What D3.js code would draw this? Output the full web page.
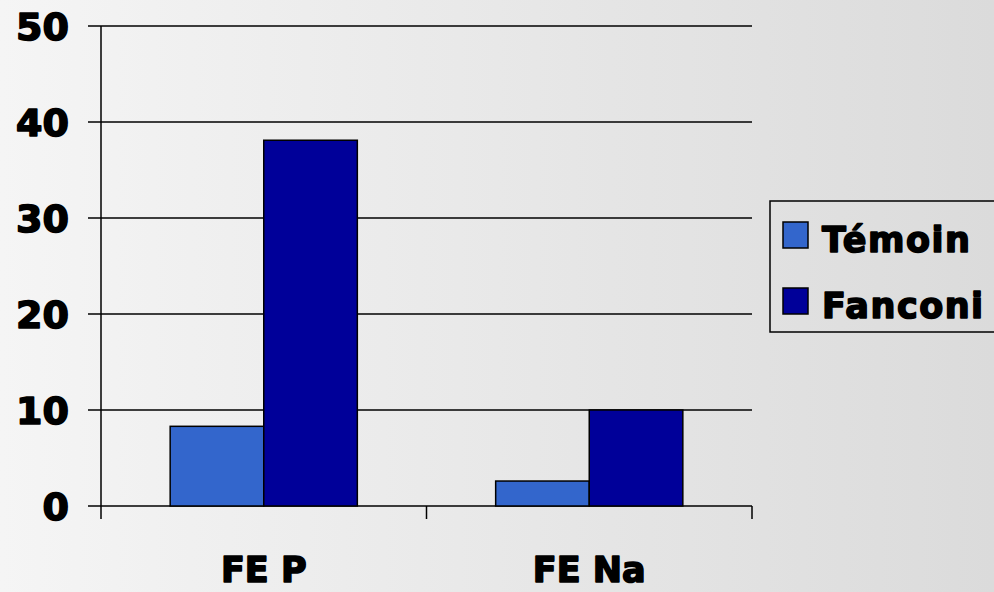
<!DOCTYPE html>
<html><head><meta charset="utf-8">
<script src="https://cdn.jsdelivr.net/npm/d3@7"></script>
<style>html,body{margin:0;padding:0;overflow:hidden;}</style>
</head><body>
<script>
const categories = ["FE P", "FE Na"];
const seriesNames = ["Témoin", "Fanconi"];
const temoin = [8.3, 2.6];
const fanconi = [38.1, 10.0];
const yTicks = [0, 10, 20, 30, 40, 50];
const colors = ["#3366cc", "#000099"];

const W = 994, H = 592;
const svg = d3.select("body").append("svg").attr("width", W).attr("height", H);
const defs = svg.append("defs");
const grad = defs.append("linearGradient").attr("id", "bg").attr("x1", "0").attr("x2", "1").attr("y1", "0").attr("y2", "0");
grad.append("stop").attr("offset", "0").attr("stop-color", "#f5f5f5");
grad.append("stop").attr("offset", "1").attr("stop-color", "#dbdbdb");
svg.append("rect").attr("width", W).attr("height", H).attr("fill", "url(#bg)");

const font = "'DejaVu Sans', sans-serif";
const x = d3.scaleBand().domain(categories).range([101, 752]).padding(0);
const y = d3.scaleLinear().domain([0, 50]).range([506, 26]);

function heavy(sel) {
  sel.attr("font-family", font).attr("font-weight", "bold")
    .attr("fill", "#000").attr("stroke", "#000").attr("stroke-width", 1.6)
    .attr("stroke-linejoin", "round");
}

// gridlines
svg.append("g").selectAll("line").data(yTicks).join("line")
  .attr("x1", 88).attr("x2", 752).attr("y1", d => y(d)).attr("y2", d => y(d))
  .attr("stroke", "#000").attr("stroke-width", 1.3);

// bars
const barW = x.bandwidth() * 0.2875;
const data = [temoin, fanconi];
data.forEach((vals, si) => {
  svg.append("g").selectAll("rect").data(categories).join("rect")
    .attr("x", (c) => x(c) + x.bandwidth() / 2 - barW + si * barW)
    .attr("y", (c, i) => y(vals[i]))
    .attr("width", barW)
    .attr("height", (c, i) => y(0) - y(vals[i]))
    .attr("fill", colors[si]).attr("stroke", "#000").attr("stroke-width", 1.5);
});

// y axis line
svg.append("line").attr("x1", 101).attr("x2", 101).attr("y1", 26).attr("y2", 519)
  .attr("stroke", "#000").attr("stroke-width", 1.5);
// x ticks
const xTickPos = [x.range()[0] + x.bandwidth(), x.range()[1]];
svg.append("g").selectAll("line").data(xTickPos).join("line")
  .attr("x1", d => d).attr("x2", d => d).attr("y1", 506).attr("y2", 519)
  .attr("stroke", "#000").attr("stroke-width", 1.5);

// y tick labels
svg.append("g").selectAll("text").data(yTicks).join("text")
  .attr("x", 69).attr("y", d => y(d) + 14)
  .attr("text-anchor", "end").attr("font-size", 38)
  .call(heavy).text(d => d);

// x labels
svg.append("g").selectAll("text").data(categories).join("text")
  .attr("x", c => x(c) + x.bandwidth() / 2).attr("y", 582)
  .attr("text-anchor", "middle").attr("font-size", 35)
  .call(heavy).text(c => c);

// legend
const lg = svg.append("g");
lg.append("rect").attr("x", 770).attr("y", 201).attr("width", 240).attr("height", 131)
  .attr("fill", "none").attr("stroke", "#000").attr("stroke-width", 1.5);
seriesNames.forEach((n, i) => {
  const yy = 222 + i * 66;
  lg.append("rect").attr("x", 783).attr("y", yy).attr("width", 25).attr("height", 26)
    .attr("fill", colors[i]).attr("stroke", "#000").attr("stroke-width", 1.5);
  lg.append("text").attr("x", 822).attr("y", yy + 30).attr("font-size", 35)
    .attr("letter-spacing", 1.5)
    .call(heavy).text(n);
});
</script>
</body></html>
